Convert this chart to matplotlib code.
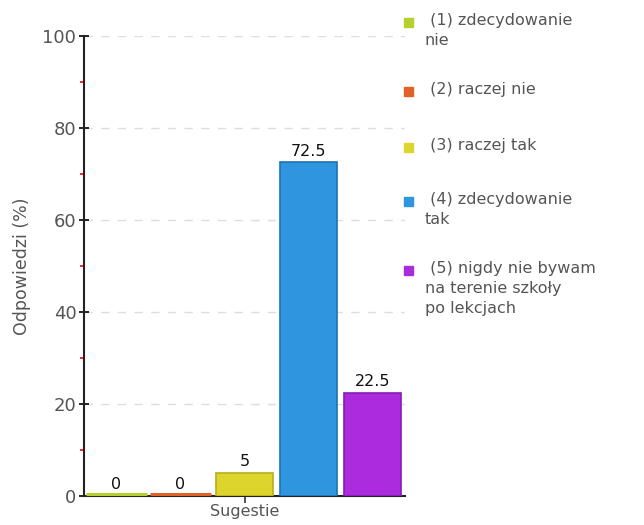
import matplotlib
matplotlib.use("Agg")
import matplotlib.pyplot as plt
from matplotlib.patches import Rectangle

categories = [" (1) zdecydowanie\nnie", " (2) raczej nie", " (3) raczej tak",
              " (4) zdecydowanie\ntak", " (5) nigdy nie bywam\nna terenie szkoły\npo lekcjach"]
values = [0, 0, 5, 72.5, 22.5]
value_labels = ["0", "0", "5", "72.5", "22.5"]
colors = ["#b5d12e", "#e06228", "#ded52c", "#2f95de", "#ab2cdc"]
edges = ["#a6c21e", "#d0541c", "#b8ae1a", "#1c72b6", "#8a1ab8"]
yticks = [0, 20, 40, 60, 80, 100]
minor_ticks = [10, 30, 50, 70, 90]

plt.rcParams['font.family'] = ['DejaVu Sans']
fig = plt.figure(figsize=(6.44, 5.25), dpi=100)
ax = fig.add_axes([84/644, 1-496/525, (405-84)/644, (496-36)/525])

x = list(range(len(values)))
bars = ax.bar(x, values, width=0.89, color=colors, edgecolor=edges, linewidth=1.2, zorder=3)
for b, v in zip(bars, values):
    if v == 0:
        # empty categories shown as a thin coloured line just above the axis
        b.set_visible(False)
        x0 = b.get_x()
        ax.plot([x0 - 0.03, x0 + b.get_width() + 0.03], [0.5, 0.5],
                color=b.get_facecolor(), linewidth=2.2, solid_capstyle='butt',
                zorder=4, clip_on=False)
for xi, v, lab in zip(x, values, value_labels):
    ax.text(xi, v + 0.8, lab, ha='center', va='bottom', fontsize=11.5, color='#111111', zorder=4)

ax.set_xlim(-0.5, 4.5)
ax.set_ylim(0, 100)
ax.set_yticks(yticks)
ax.set_yticklabels([str(t) for t in yticks], fontsize=13, color='#555555')
ax.set_yticks(minor_ticks, minor=True)
ax.tick_params(axis='y', which='major', direction='inout', length=7, width=1.2, color='black', pad=2)
ax.tick_params(axis='y', which='minor', direction='out', length=3, width=1.2, color='red')
ax.set_xticks([2])
ax.set_xticklabels([""])
ax.tick_params(axis='x', direction='out', length=5, width=1.2, color='#333333', pad=0)
ax.set_xlabel("Sugestie", fontsize=11.5, color='#555555', labelpad=1)
ax.set_ylabel("Odpowiedzi (%)", fontsize=12.5, color='#555555', labelpad=8)

for t in yticks[1:]:
    ax.axhline(t, color='#dddddd', linestyle=(0, (6, 6)), linewidth=1, zorder=1)

for s in ['top', 'right']:
    ax.spines[s].set_visible(False)
ax.spines['left'].set_linewidth(1.5)
ax.spines['bottom'].set_linewidth(1.5)
ax.spines['left'].set_color('#222222')
ax.spines['bottom'].set_color('#222222')

# legend drawn as squares with text beside them
W, H = 644, 525
legend_y = [22, 91, 147, 201, 270]
for ly, lab, c in zip(legend_y, categories, colors):
    fig.patches.append(Rectangle(((408 - 4.5)/W, 1 - (ly + 4.5)/H), 9/W, 9/H,
                                 transform=fig.transFigure, color=c, figure=fig))
    fig.text(425/W, 1 - (ly - 9)/H, lab, ha='left', va='top', fontsize=11.5,
             color='#555555', linespacing=1.42)

fig.savefig("out.png", dpi=100)
